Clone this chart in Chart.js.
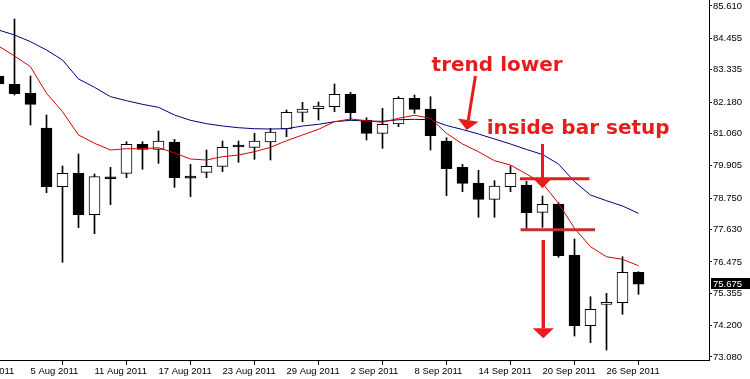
<!DOCTYPE html>
<html>
<head>
<meta charset="utf-8">
<script src="https://cdn.jsdelivr.net/npm/chart.js@4.4.1/dist/chart.umd.min.js"></script>
<style>
  html, body { margin: 0; padding: 0; background: #fff; }
  #wrap { width: 750px; height: 379px; }
</style>
</head>
<body>
<div id="wrap"><canvas id="chart" width="750" height="379"></canvas></div>
<script>
// daily bars, 1 Aug and 2 Aug are only there for the axis (off screen)
const dates = [
  "1 Aug 2011", "2 Aug 2011", "3 Aug 2011", "4 Aug 2011", "5 Aug 2011", "8 Aug 2011", "9 Aug 2011",
  "10 Aug 2011", "11 Aug 2011", "12 Aug 2011", "15 Aug 2011", "16 Aug 2011", "17 Aug 2011", "18 Aug 2011",
  "19 Aug 2011", "22 Aug 2011", "23 Aug 2011", "24 Aug 2011", "25 Aug 2011", "26 Aug 2011", "29 Aug 2011",
  "30 Aug 2011", "31 Aug 2011", "1 Sep 2011", "2 Sep 2011", "5 Sep 2011", "6 Sep 2011", "7 Sep 2011",
  "8 Sep 2011", "9 Sep 2011", "12 Sep 2011", "13 Sep 2011", "14 Sep 2011", "15 Sep 2011", "16 Sep 2011",
  "19 Sep 2011", "20 Sep 2011", "21 Sep 2011", "22 Sep 2011", "23 Sep 2011", "26 Sep 2011", "27 Sep 2011",
  "28 Sep 2011"
];

const open = [null, null,
  83.111, 82.814, 82.493, 81.254, 79.159, 79.637, 78.159, 79.515, 79.637, 80.672,
  80.494, 80.754, 79.535, 79.673, 79.887, 80.647, 80.565, 80.754, 81.218, 81.815,
  81.943, 82.015, 82.457, 81.540, 81.065, 81.397, 82.315, 81.932, 80.790, 79.851,
  79.290, 78.709, 79.159, 79.219, 78.244, 78.541, 76.720, 74.196, 74.960, 75.017,
  76.102];
const high = [null, null,
  83.182, 85.146, 83.111, 81.718, 79.898, 80.326, 79.612, 79.851, 80.765, 80.765,
  81.147, 80.851, 79.958, 80.469, 80.790, 80.790, 81.065, 81.243, 81.897, 82.172,
  82.183, 82.825, 82.529, 81.622, 81.958, 82.372, 82.432, 82.372, 80.908, 79.958,
  79.744, 79.373, 79.898, 79.351, 78.826, 78.587, 77.291, 75.231, 75.353, 76.659,
  76.124];
const low = [null, null,
  82.682, 82.432, 81.361, 78.944, 76.460, 77.695, 77.481, 78.516, 79.480, 79.780,
  79.994, 79.137, 78.801, 79.480, 79.694, 80.030, 80.137, 80.112, 80.944, 81.479,
  81.540, 81.836, 81.540, 80.826, 80.529, 81.301, 81.779, 80.469, 78.837, 78.980,
  78.066, 78.066, 78.980, 77.638, 77.709, 76.638, 73.828, 73.589, 73.328, 74.603,
  75.317];
const close = [null, null,
  82.825, 82.479, 82.100, 79.159, 79.637, 78.159, 79.516, 79.445, 80.672, 80.494,
  80.790, 79.480, 79.465, 79.887, 80.565, 80.577, 80.790, 81.111, 81.815, 81.932,
  82.040, 82.457, 81.800, 81.065, 81.386, 82.315, 81.922, 80.979, 79.801, 79.280,
  78.702, 79.183, 79.637, 78.230, 78.530, 76.695, 74.196, 74.781, 75.031, 76.102,
  75.675];

// moving averages
const maFast = [null, null,
  84.182, 83.825, 83.443, 82.493, 81.836, 81.005, 80.708, 80.469, 80.515, 80.515,
  80.551, 80.362, 80.148, 80.112, 80.230, 80.290, 80.408, 80.565, 80.801, 81.005,
  81.208, 81.479, 81.576, 81.515, 81.458, 81.601, 81.708, 81.601, 81.065, 80.683,
  80.408, 80.087, 79.933, 79.612, 79.280, 78.566, 77.673, 77.016, 76.659, 76.567,
  76.338];
const maSlow = [null, null,
  84.753, 84.575, 84.336, 84.039, 83.682, 83.004, 82.707, 82.372, 82.229, 82.100,
  81.993, 81.718, 81.529, 81.408, 81.326, 81.265, 81.229, 81.218, 81.229, 81.326,
  81.386, 81.479, 81.529, 81.504, 81.493, 81.550, 81.565, 81.550, 81.343, 81.201,
  81.040, 80.862, 80.683, 80.487, 80.308, 79.969, 79.337, 78.862, 78.659, 78.470,
  78.209];

const xTickLabels = ["1 Aug 2011", "5 Aug 2011", "11 Aug 2011", "17 Aug 2011", "23 Aug 2011",
  "29 Aug 2011", "2 Sep 2011", "8 Sep 2011", "14 Sep 2011", "20 Sep 2011", "26 Sep 2011"];
const yTicks = [85.610, 84.455, 83.335, 82.180, 81.060, 79.905, 78.750, 77.630, 76.475, 75.355, 74.200, 73.080];

const RED = "#e81c1c";
const axisFont = { family: "Liberation Sans", size: 9.5, lineHeight: 1 };

// build series from the arrays
const idx = dates.map((d, i) => i).filter(i => open[i] != null);
const wicks = idx.map(i => ({ x: i, y: [low[i], high[i]] }));
const bodies = idx.map(i => ({ x: i, y: [open[i], close[i]] }));
const bodyColors = idx.map(i => (close[i] >= open[i] ? "#ffffff" : "#000000"));
const linePts = arr => idx.map(i => ({ x: i, y: arr[i] }));

// annotations drawn on top, anchored in (bar index, price)
function drawArrow(ctx, x1, y1, x2, y2, headLen, headHalf, color, lw) {
  const dx = x2 - x1, dy = y2 - y1;
  const len = Math.hypot(dx, dy);
  const ux = dx / len, uy = dy / len;
  const bx = x2 - ux * headLen, by = y2 - uy * headLen;
  ctx.strokeStyle = color;
  ctx.lineWidth = lw;
  ctx.beginPath();
  ctx.moveTo(x1, y1);
  ctx.lineTo(bx, by);
  ctx.stroke();
  ctx.fillStyle = color;
  ctx.beginPath();
  ctx.moveTo(x2, y2);
  ctx.lineTo(bx - uy * headHalf, by + ux * headHalf);
  ctx.lineTo(bx + uy * headHalf, by - ux * headHalf);
  ctx.closePath();
  ctx.fill();
}

const notesPlugin = {
  id: "notes",
  afterDraw(chart) {
    const { ctx, scales } = chart;
    const X = v => scales.x.getPixelForValue(v);
    const Y = v => scales.y.getPixelForValue(v);
    ctx.save();

    ctx.font = 'bold 20px "DejaVu Sans"';
    ctx.fillStyle = RED;
    ctx.textBaseline = "alphabetic";
    ctx.fillText("trend lower", X(29.07), Y(83.30));
    ctx.fillText("inside bar setup", X(32.51), Y(81.058));

    drawArrow(ctx, X(31.81), Y(83.111), X(31.26), Y(81.183), 10, 10.5, RED, 3);
    drawArrow(ctx, X(36), Y(80.683), X(36), Y(79.102), 9, 8.5, RED, 3);
    drawArrow(ctx, X(36.05), Y(77.256), X(36.05), Y(73.746), 10, 10.5, RED, 3.5);

    ctx.lineWidth = 3;
    ctx.strokeStyle = RED;
    ctx.beginPath();
    ctx.moveTo(X(34.59), Y(79.444));
    ctx.lineTo(X(38.93), Y(79.444));
    ctx.stroke();
    ctx.strokeStyle = "#c4302e";
    ctx.beginPath();
    ctx.moveTo(X(34.63), Y(77.624));
    ctx.lineTo(X(39.28), Y(77.624));
    ctx.stroke();

    // last price tag on the axis
    const last = close[close.length - 1];
    const py = Y(last);
    ctx.fillStyle = "#000";
    ctx.fillRect(711, Math.round(py) - 6, 39, 11);
    ctx.fillStyle = "#fff";
    ctx.font = '9.5px "Liberation Sans"';
    ctx.textBaseline = "middle";
    ctx.fillText(last.toFixed(3), 713, Math.round(py));
    ctx.restore();
  }
};

new Chart(document.getElementById("chart"), {
  type: "bar",
  data: {
    datasets: [
      { type: "line", data: linePts(maFast), borderColor: "#d60000", borderWidth: 1, pointRadius: 0, tension: 0, fill: false },
      { type: "line", data: linePts(maSlow), borderColor: "#000080", borderWidth: 1, pointRadius: 0, tension: 0, fill: false },
      { data: bodies, backgroundColor: bodyColors, borderColor: "#000", borderWidth: 1, borderSkipped: false, barThickness: 11, grouped: false },
      { data: wicks, backgroundColor: "#000", borderWidth: 0, barThickness: 1, grouped: false }
    ]
  },
  options: {
    responsive: false,
    animation: false,
    events: [],
    layout: { padding: 0 },
    plugins: { legend: { display: false }, tooltip: { enabled: false } },
    scales: {
      x: {
        type: "linear",
        min: 33.5 / 16,
        max: (709 + 33.5) / 16,
        offset: false,
        grid: { drawOnChartArea: false, drawTicks: true, tickLength: 5, color: "#000" },
        border: { display: true, color: "#000" },
        ticks: {
          autoSkip: false,
          align: "start",
          maxRotation: 0,
          minRotation: 0,
          padding: 2,
          color: "#000",
          font: axisFont,
          callback: (v, i) => xTickLabels[i]
        },
        afterBuildTicks: s => { s.ticks = xTickLabels.map(l => ({ value: dates.indexOf(l) })); },
        afterFit: s => { s.height = 19; s.paddingLeft = 0; s.paddingRight = 0; }
      },
      y: {
        type: "linear",
        position: "right",
        min: 72.972,
        max: 85.8242,
        grid: { drawOnChartArea: false, drawTicks: true, tickLength: 3, color: "#000" },
        border: { display: true, color: "#000" },
        ticks: { padding: 1, color: "#000", font: axisFont, callback: v => v.toFixed(3) },
        afterBuildTicks: s => { s.ticks = yTicks.map(v => ({ value: v })); },
        afterFit: s => { s.width = 41; s.paddingTop = 0; s.paddingBottom = 0; }
      }
    }
  },
  plugins: [notesPlugin]
});
</script>
</body>
</html>
